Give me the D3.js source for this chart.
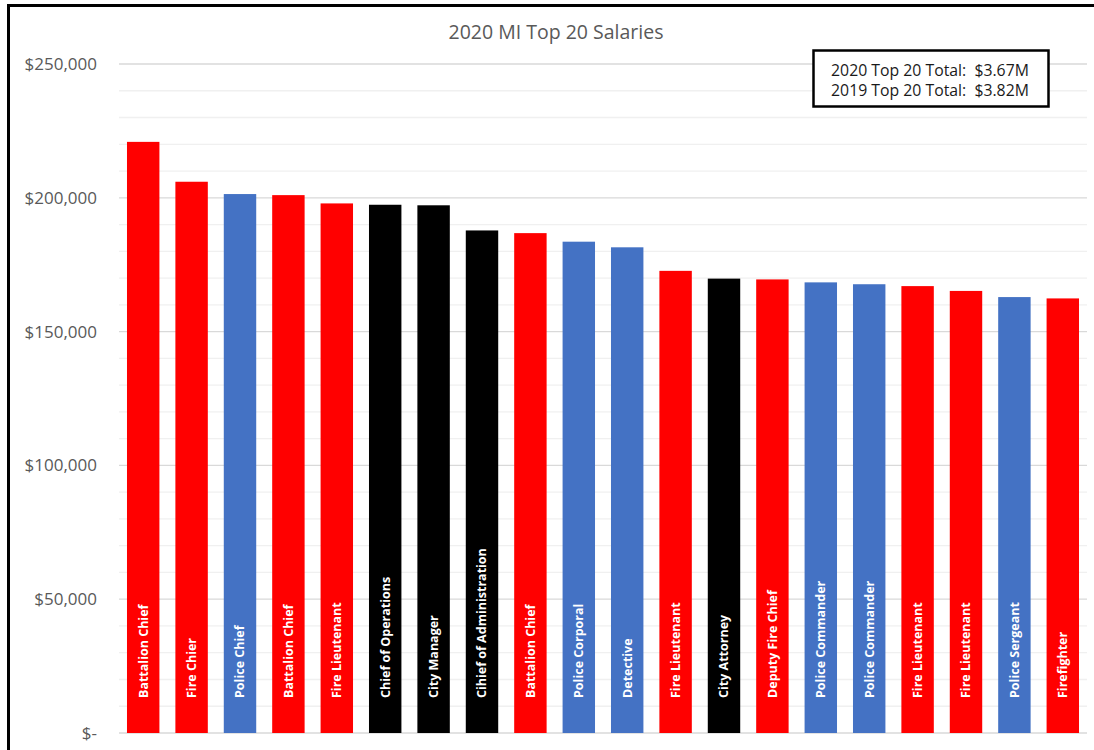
<!DOCTYPE html>
<html>
<head>
<meta charset="utf-8">
<script src="https://cdn.jsdelivr.net/npm/d3@7"></script>
<style>
  html, body { margin: 0; padding: 0; background: #fff; }
  svg { display: block; }
</style>
</head>
<body>
<svg id="chart" width="1094" height="750"></svg>
<script>
const title = "2020 MI Top 20 Salaries";
const categories = ["Battalion Chief","Fire Chier","Police Chief","Battalion Chief","Fire Lieutenant",
  "Chief of Operations","City Manager","Cihief of Administration","Battalion Chief","Police Corporal",
  "Detective","Fire Lieutenant","City Attorney","Deputy Fire Chief","Police Commander",
  "Police Commander","Fire Lieutenant","Fire Lieutenant","Police Sergeant","Firefighter"];
const salaries = [220900, 206000, 201400, 201000, 197900, 197400, 197200, 187800, 186800, 183600,
  181500, 172700, 169800, 169500, 168400, 167700, 167000, 165200, 162900, 162400];
const departments = ["Fire","Fire","Police","Fire","Fire","Admin","Admin","Admin","Fire","Police",
  "Police","Fire","Admin","Fire","Police","Police","Fire","Fire","Police","Fire"];
const deptColors = { Fire: "#ff0000", Police: "#4472c4", Admin: "#000000" };
const majorTicks = [0, 50000, 100000, 150000, 200000, 250000];
const minorTicks = d3.range(0, 250001, 10000);
const totals = ["2020 Top 20 Total:\u00a0\u00a0$3.67M", "2019 Top 20 Total:\u00a0\u00a0$3.82M"];

const svg = d3.select("#chart");
const W = 1094, H = 750;
const m = { left: 119, right: 1087, top: 64, bottom: 733 };

// outer frame
svg.append("rect").attr("x", 8.5).attr("y", 5.5).attr("width", W + 10).attr("height", H + 10)
  .attr("fill", "#fff").attr("stroke", "#000").attr("stroke-width", 3);

const x = d3.scaleBand().domain(d3.range(categories.length)).range([m.left, m.right]).paddingInner(0.33).paddingOuter(0.165);
const y = d3.scaleLinear().domain([0, 250000]).range([m.bottom, m.top]);

// gridlines
svg.append("g").selectAll("line").data(minorTicks.filter(t => t % 50000 !== 0)).join("line")
  .attr("x1", m.left).attr("x2", m.right).attr("y1", d => y(d)).attr("y2", d => y(d))
  .attr("stroke", "#f0f0f0").attr("stroke-width", 1.3);
svg.append("g").selectAll("line").data(majorTicks).join("line")
  .attr("x1", m.left).attr("x2", m.right).attr("y1", d => y(d)).attr("y2", d => y(d))
  .attr("stroke", "#d9d9d9").attr("stroke-width", 1.3);

// y axis labels
const yAxis = d3.axisLeft(y).tickValues(majorTicks).tickSize(0).tickPadding(0)
  .tickFormat(d => d === 0 ? "$-" : "$" + d3.format(",")(d));
const ga = svg.append("g").attr("transform", `translate(${97},0)`).call(yAxis);
ga.select(".domain").remove();
ga.selectAll("text").attr("font-family", "'Open Sans', sans-serif").attr("font-size", 17)
  .attr("fill", "#595959");

// bars
svg.append("g").selectAll("rect").data(salaries).join("rect")
  .attr("x", (d, i) => x(i)).attr("width", x.bandwidth())
  .attr("y", d => y(d)).attr("height", d => y(0) - y(d))
  .attr("fill", (d, i) => deptColors[departments[i]]);

// labels inside bars
svg.append("g").selectAll("text").data(categories).join("text")
  .attr("transform", (d, i) => `translate(${x(i) + x.bandwidth() / 2},${y(0) - 35}) rotate(-90)`)
  .attr("dy", "0.35em").attr("text-anchor", "start")
  .attr("font-family", "'Open Sans', sans-serif").attr("font-weight", "bold").attr("font-size", 12.5)
  .attr("fill", "#fff").text(d => d);

// title
svg.append("text").attr("x", 556).attr("y", 32).attr("dy", "0.35em").attr("text-anchor", "middle")
  .attr("font-family", "'Open Sans', sans-serif").attr("font-size", 19.5).attr("fill", "#595959").text(title);

// totals box
svg.append("rect").attr("x", 813.5).attr("y", 50.5).attr("width", 235).attr("height", 56)
  .attr("fill", "#fff").attr("stroke", "#000").attr("stroke-width", 2.5);
svg.append("g").selectAll("text").data(totals).join("text")
  .attr("x", 930).attr("y", (d, i) => 70 + i * 20).attr("dy", "0.35em").attr("text-anchor", "middle")
  .attr("font-family", "'Open Sans', sans-serif").attr("font-size", 15.8).attr("fill", "#1a1a1a").text(d => d);
</script>
</body>
</html>
